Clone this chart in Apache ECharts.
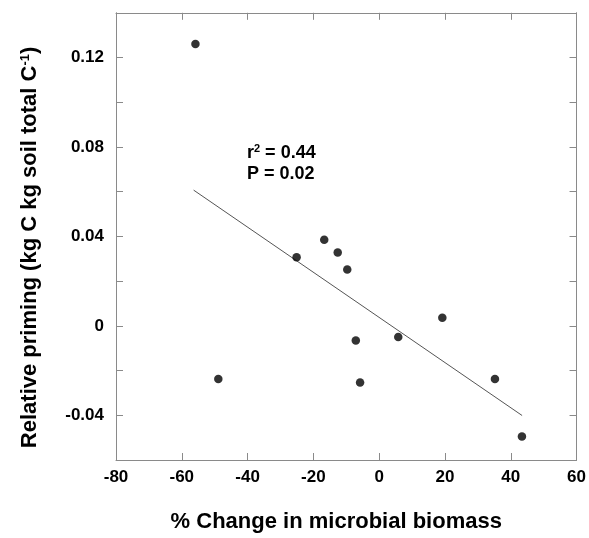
<!DOCTYPE html>
<html>
<head>
<meta charset="utf-8">
<script src="https://cdn.jsdelivr.net/npm/echarts@6/dist/echarts.min.js"></script>
<style>
html,body{margin:0;padding:0;background:#fff;}
#c{width:589px;height:538px;}
</style>
</head>
<body>
<div id="c"></div>
<script>
// Data
var biomassChange = [-55.85, -48.9, -25.1, -16.7, -12.6, -9.7, -7.1, -5.8, 5.8, 19.2, 35.2, 43.4];
var relativePriming = [0.1261, -0.0238, 0.0307, 0.0385, 0.0328, 0.0252, -0.0066, -0.0253, -0.0050, 0.0036, -0.0238, -0.0495];
var fitX = [-56.4, 43.45];
var fitY = [0.0607, -0.0401];
var annotationLines = ['r', '2', ' = 0.44', 'P = 0.02'];

var FONT = '"Liberation Sans", Arial, Helvetica, sans-serif';
var AXIS_COLOR = '#8a8a8a';

var points = biomassChange.map(function (x, i) { return [x, relativePriming[i]]; });
var fitLine = fitX.map(function (x, i) { return [x, fitY[i]]; });

function yFmt(v) {
  var k = Math.round(v / 0.02);
  if (k % 2 !== 0) return '';
  if (k === 0) return '0';
  return (k * 0.02).toFixed(2);
}

var baseX = {
  type: 'value', min: -80, max: 60, interval: 20,
  axisLine: { show: true, onZero: false, lineStyle: { color: AXIS_COLOR, width: 1 } },
  axisTick: { show: true, inside: true, length: 7, lineStyle: { color: AXIS_COLOR, width: 1 } },
  splitLine: { show: false }
};
var baseY = {
  type: 'value', min: -0.06, max: 0.14, interval: 0.02,
  axisLine: { show: true, onZero: false, lineStyle: { color: AXIS_COLOR, width: 1 } },
  axisTick: { show: true, inside: true, length: 7, lineStyle: { color: AXIS_COLOR, width: 1 } },
  splitLine: { show: false }
};

var chart = echarts.init(document.getElementById('c'), null, { renderer: 'canvas' });
chart.setOption({
  animation: false,
  backgroundColor: '#ffffff',
  grid: { left: 116, right: 11.5, top: 12.8, bottom: 70.5, containLabel: false },
  xAxis: [
    Object.assign({}, baseX, {
      position: 'bottom',
      name: '% Change in microbial biomass',
      nameLocation: 'middle',
      nameGap: 51,
      nameTextStyle: { fontFamily: FONT, fontWeight: 'bold', fontSize: 22, color: '#000', padding: [0, 20, 0, 0] },
      axisLabel: { show: true, margin: 9, fontFamily: FONT, fontWeight: 'bold', fontSize: 17, color: '#000', showMinLabel: true, showMaxLabel: true }
    }),
    Object.assign({}, baseX, { position: 'top', axisLabel: { show: false } })
  ],
  yAxis: [
    Object.assign({}, baseY, {
      position: 'left',
      name: 'Relative priming (kg C kg soil total C{sup|-1})',
      nameLocation: 'middle',
      nameGap: 75,
      nameRotate: 90,
      nameTextStyle: {
        fontFamily: FONT, fontWeight: 'bold', fontSize: 22, color: '#000', padding: [0, 22, 0, 0],
        rich: { sup: { fontFamily: FONT, fontWeight: 'bold', fontSize: 13, color: '#000', verticalAlign: 'top' } }
      },
      axisLabel: { show: true, margin: 12, fontFamily: FONT, fontWeight: 'bold', fontSize: 17, color: '#000', formatter: yFmt, showMinLabel: true, showMaxLabel: true }
    }),
    Object.assign({}, baseY, { position: 'right', axisLabel: { show: false } })
  ],
  graphic: [{
    type: 'text',
    left: 247,
    top: 143,
    style: {
      text: '{b|' + annotationLines[0] + '}{s|' + annotationLines[1] + '}{b|' + annotationLines[2] + '}\n{b|' + annotationLines[3] + '}',
      rich: {
        b: { fontFamily: FONT, fontWeight: 'bold', fontSize: 18, color: '#000', lineHeight: 21 },
        s: { fontFamily: FONT, fontWeight: 'bold', fontSize: 11, color: '#000', lineHeight: 21, verticalAlign: 'top' }
      }
    }
  }],
  series: [
    {
      type: 'line',
      data: fitLine,
      xAxisIndex: 0, yAxisIndex: 0,
      showSymbol: false,
      symbol: 'none',
      lineStyle: { color: '#555', width: 1 },
      silent: true,
      z: 2
    },
    {
      type: 'scatter',
      data: points,
      xAxisIndex: 0, yAxisIndex: 0,
      symbol: 'circle',
      symbolSize: 8.5,
      itemStyle: { color: '#000' },
      z: 3
    }
  ]
});
</script>
</body>
</html>
